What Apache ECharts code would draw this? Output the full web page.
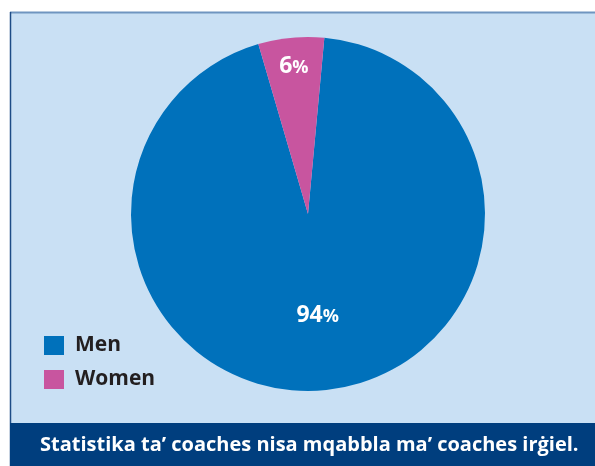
<!DOCTYPE html>
<html>
<head>
<meta charset="utf-8">
<script src="https://cdn.jsdelivr.net/npm/echarts@6/dist/echarts.min.js"></script>
<style>
  html, body { margin: 0; padding: 0; background: #fff; }
  #pie { width: 595px; height: 466px; }
</style>
</head>
<body>
<div id="pie"></div>
<script>
var myChart = echarts.init(document.getElementById('pie'));

// data
var names = ['Men', 'Women'];
var shares = [94, 6];
var colours = ['#0071bb', '#c8559f'];
var caption = 'Statistika ta\u2019 coaches nisa mqabbla ma\u2019 coaches ir\u0121iel.';

var font = 'Open Sans';

// build pie items; colourList null -> invisible (label-only ring)
function items(colourList, showIdx) {
    return names.map(function (n, i) {
        var it = {
            name: n,
            value: shares[i],
            itemStyle: { color: colourList ? colourList[i] : 'rgba(0,0,0,0)' }
        };
        if (showIdx !== undefined) it.label = { show: showIdx === i };
        return it;
    });
}

var pctLabel = {
    show: true,
    position: 'inside',
    formatter: '{n|{c}}{p|%}',
    rich: {
        n: { color: '#fff', fontSize: 23, fontWeight: 'bold', fontFamily: font },
        p: { color: '#fff', fontSize: 18, fontWeight: 'bold', fontFamily: font, padding: [3, 0, 0, 0] }
    }
};

option = {
    animation: false,
    graphic: [
        // light panel
        { type: 'rect', z: 0, shape: { x: 10, y: 12, width: 600, height: 412 },
          style: { fill: '#c9e0f4', stroke: null } },
        { type: 'line', z: 1, shape: { x1: 10, y1: 12.5, x2: 600, y2: 12.5 },
          style: { stroke: '#6f95c0', lineWidth: 2 } },
        { type: 'line', z: 1, shape: { x1: 10.5, y1: 12, x2: 10.5, y2: 466 },
          style: { stroke: '#1d4c86', lineWidth: 1.5 } },
        // caption band
        { type: 'rect', z: 1, shape: { x: 10, y: 423, width: 600, height: 50 },
          style: { fill: '#003e7e' } },
        { type: 'text', z: 2, left: 40, top: 435,
          style: { text: caption, fill: '#fff', fontSize: 20, fontWeight: 'bold', fontFamily: font } }
    ],
    legend: {
        data: names,
        orient: 'vertical',
        left: 44,
        top: 335,
        padding: 0,
        icon: 'rect',
        itemWidth: 20,
        itemHeight: 19,
        itemGap: 13,
        selectedMode: false,
        textStyle: { fontSize: 21, fontWeight: 'bold', color: '#231f20', fontFamily: font, padding: [0, 0, 0, 6] }
    },
    series: [
        {
            name: 'wedges',
            type: 'pie',
            center: [308, 214],
            radius: [0, 177],
            startAngle: 84.7,
            clockwise: true,
            label: { show: false },
            labelLine: { show: false },
            itemStyle: { borderWidth: 0 },
            emphasis: { disabled: true },
            data: items(colours)
        },
        {
            // label ring for the big slice
            type: 'pie',
            silent: true,
            center: [308, 214],
            radius: [20, 177],
            startAngle: 84.7,
            label: pctLabel,
            labelLine: { show: false },
            data: items(null, 0)
        },
        {
            // label ring for the small slice
            type: 'pie',
            silent: true,
            center: [308, 214],
            radius: [113, 177],
            startAngle: 84.7,
            label: pctLabel,
            labelLine: { show: false },
            data: items(null, 1)
        }
    ]
};

myChart.setOption(option);
</script>
</body>
</html>
